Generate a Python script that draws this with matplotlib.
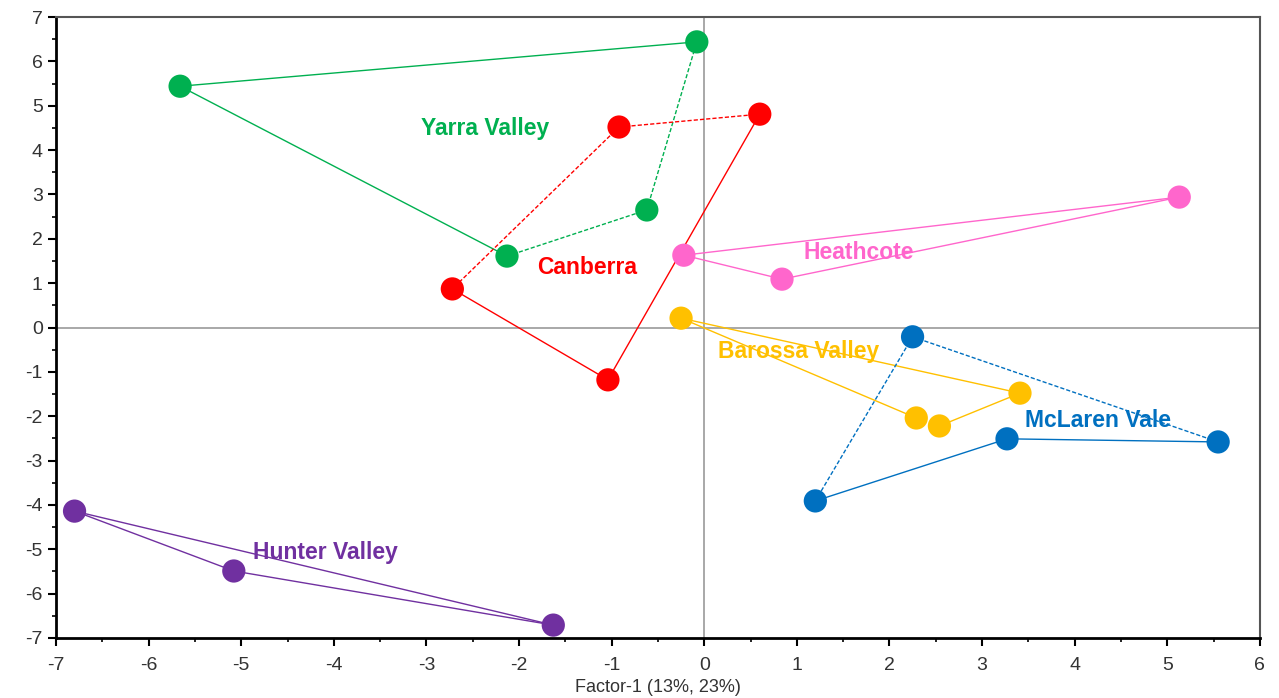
import matplotlib.pyplot as plt
from matplotlib.ticker import MultipleLocator

plt.rcParams['font.family'] = ['Liberation Sans', 'DejaVu Sans']
plt.rcParams['axes.unicode_minus'] = False

# region points (factor-1, factor-2)
yarra_x = [-5.66, -0.08, -0.62, -2.13]
yarra_y = [5.44, 6.44, 2.65, 1.61]
canberra_x = [-0.92, 0.60, -1.04, -2.72]
canberra_y = [4.52, 4.81, -1.18, 0.87]
heathcote_x = [-0.22, 0.84, 5.13]
heathcote_y = [1.63, 1.09, 2.94]
barossa_x = [-0.25, 3.41, 2.54, 2.29]
barossa_y = [0.21, -1.48, -2.22, -2.04]
mclaren_x = [2.25, 5.55, 3.27, 1.20]
mclaren_y = [-0.21, -2.58, -2.51, -3.91]
hunter_x = [-6.80, -5.08, -1.63]
hunter_y = [-4.14, -5.49, -6.71]

# edges: (i, j, dashed)
yarra_edges = [(0, 1, False), (0, 3, False), (3, 2, True), (2, 1, True)]
canberra_edges = [(0, 1, True), (0, 3, True), (3, 2, False), (2, 1, False)]
heathcote_edges = [(0, 2, False), (0, 1, False), (1, 2, False)]
barossa_edges = [(0, 1, False), (0, 3, False), (2, 1, False)]
mclaren_edges = [(0, 1, True), (0, 3, True), (3, 2, False), (2, 1, False)]
hunter_edges = [(0, 2, False), (0, 1, False), (1, 2, False)]

groups = [
    ("Yarra Valley", yarra_x, yarra_y, yarra_edges, "#00B050", (-2.37, 4.49)),
    ("Canberra", canberra_x, canberra_y, canberra_edges, "#FF0000", (-1.26, 1.36)),
    ("Heathcote", heathcote_x, heathcote_y, heathcote_edges, "#FF66CC", (1.67, 1.68)),
    ("Barossa Valley", barossa_x, barossa_y, barossa_edges, "#FFC000", (1.02, -0.53)),
    ("McLaren Vale", mclaren_x, mclaren_y, mclaren_edges, "#0070C0", (4.25, -2.09)),
    ("Hunter Valley", hunter_x, hunter_y, hunter_edges, "#7030A0", (-4.09, -5.08)),
]

fig = plt.figure(figsize=(12.79, 6.98), dpi=100)
ax = fig.add_axes([0.0438, 0.086, 0.9412, 0.8896])

ax.axhline(0, color='#999999', lw=1.2, zorder=1)
ax.axvline(0, color='#999999', lw=1.2, zorder=1)

for name, xs, ys, edges, col, lab in groups:
    for i, j, dashed in edges:
        ax.plot([xs[i], xs[j]], [ys[i], ys[j]], color=col, lw=1.0,
                ls=(0, (3, 1.5)) if dashed else '-', zorder=2)
    ax.scatter(xs, ys, s=280, color=col, edgecolors='none', zorder=3)
    ax.text(lab[0], lab[1], name, color=col, fontsize=16.5, fontweight='bold',
            ha='center', va='center', zorder=4)

ax.set_xlim(-7, 6)
ax.set_ylim(-7, 7)
ax.xaxis.set_major_locator(MultipleLocator(1))
ax.yaxis.set_major_locator(MultipleLocator(1))
ax.xaxis.set_minor_locator(MultipleLocator(0.5))
ax.yaxis.set_minor_locator(MultipleLocator(0.5))
ax.tick_params(which='major', direction='out', length=6, width=1.5, labelsize=14, colors='black')
ax.tick_params(which='minor', direction='out', length=3, width=1.2)
ax.tick_params(axis='both', labelcolor='#333333')
ax.tick_params(axis='x', pad=8)

ax.spines['left'].set_linewidth(2)
ax.spines['bottom'].set_linewidth(2)
ax.spines['top'].set_color('#555555')
ax.spines['right'].set_color('#555555')
ax.spines['top'].set_linewidth(1.5)
ax.spines['right'].set_linewidth(1.5)

ax.set_xlabel("Factor-1 (13%, 23%)", fontsize=13, color='#333333', labelpad=3)

fig.savefig("out.png", dpi=100)
